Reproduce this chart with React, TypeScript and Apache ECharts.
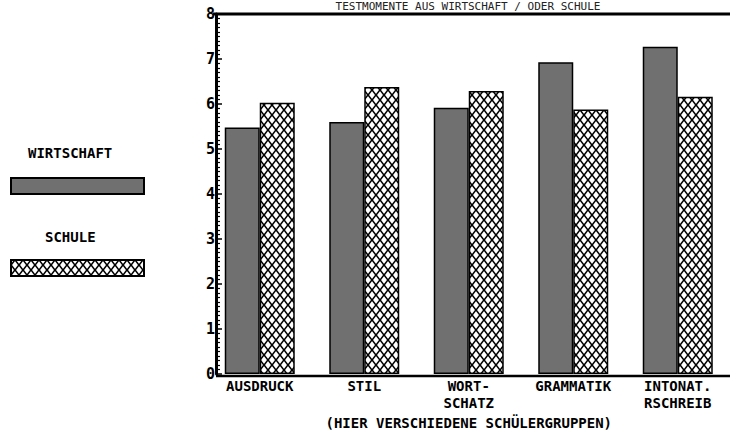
import React, { useEffect, useRef } from "react";
import * as echarts from "echarts";

const categories = ["AUSDRUCK", "STIL", "WORT-\nSCHATZ", "GRAMMATIK", "INTONAT.\nRSCHREIB"];
const seriesNames = ["WIRTSCHAFT", "SCHULE"];
const wirtschaft = [5.48, 5.6, 5.92, 6.93, 7.27];
const schule = [6.03, 6.38, 6.29, 5.88, 6.16];
const titleText = "TESTMOMENTE AUS WIRTSCHAFT / ODER SCHULE";
const xAxisName = "(HIER VERSCHIEDENE SCHÜLERGRUPPEN)";

const FONT = '"DejaVu Sans Mono", "Liberation Mono", monospace';

function makeHatch(): any {
  const s = 4;
  const W = 8 * s;
  const H = 10 * s;
  const c = document.createElement("canvas");
  c.width = W;
  c.height = H;
  const ctx = c.getContext("2d")!;
  ctx.fillStyle = "#000";
  ctx.fillRect(0, 0, W, H);
  ctx.fillStyle = "#fff";
  const hw = (W / 2) * 0.74;
  const hh = (H / 2) * 0.78;
  const centers = [
    [W / 2, H / 2],
    [0, 0],
    [W, 0],
    [0, H],
    [W, H],
  ];
  for (const [cx, cy] of centers) {
    ctx.beginPath();
    ctx.moveTo(cx, cy - hh);
    ctx.lineTo(cx + hw, cy);
    ctx.lineTo(cx, cy + hh);
    ctx.lineTo(cx - hw, cy);
    ctx.closePath();
    ctx.fill();
  }
  return {
    image: c,
    repeat: "repeat",
    imageWidth: W,
    imageHeight: H,
    scaleX: 1 / s,
    scaleY: 1 / s,
  };
}

export default function App() {
  const ref = useRef<HTMLDivElement>(null);
  useEffect(() => {
    if (!ref.current) return;
    const chart = echarts.init(ref.current, undefined, { renderer: "svg" });
    const hatch = makeHatch();
    const axisY = 376;
    chart.setOption({
      animation: false,
      backgroundColor: "#ffffff",
      textStyle: { fontFamily: FONT },
      title: {
        text: titleText,
        left: 468,
        textAlign: "center",
        top: 1,
        padding: 0,
        textStyle: { fontFamily: FONT, fontSize: 11, fontWeight: "normal", color: "#222", lineHeight: 11 },
      },
      legend: {
        orient: "vertical",
        left: 10,
        top: 177,
        padding: 0,
        icon: "rect",
        itemWidth: 133,
        itemHeight: 16,
        itemGap: 64,
        formatter: () => "",
        data: seriesNames,
        textStyle: { fontSize: 1 },
      },
      grid: { left: 207.5, right: -3, top: 14, bottom: 435 - axisY },
      xAxis: {
        type: "category",
        data: categories,
        axisLine: { show: false },
        axisTick: { show: false },
        axisLabel: {
          margin: 3,
          fontFamily: FONT,
          fontSize: 14,
          fontWeight: "bold",
          color: "#000",
          lineHeight: 17,
          interval: 0,
        },
        name: xAxisName,
        nameLocation: "middle",
        nameGap: 38,
        nameTextStyle: { fontFamily: FONT, fontSize: 14, fontWeight: "bold", color: "#000" },
      },
      yAxis: {
        type: "value",
        min: 0,
        max: 8,
        interval: 1,
        offset: -8.5,
        axisLine: { show: true, lineStyle: { color: "#000", width: 3 } },
        axisTick: { show: true, inside: true, length: 6, lineStyle: { color: "#000", width: 1.5 } },
        minorTick: { show: true, splitNumber: 10, length: 4, lineStyle: { color: "#000", width: 1.2 } },
        splitLine: { show: false },
        axisLabel: {
          margin: 1,
          fontFamily: FONT,
          fontSize: 15,
          fontWeight: "bold",
          color: "#000",
        },
      },
      series: [
        {
          name: seriesNames[0],
          type: "bar",
          data: wirtschaft,
          barWidth: 35,
          barGap: "0%",
          itemStyle: { color: "#707070", borderColor: "#000", borderWidth: 1.5 },
        },
        {
          name: seriesNames[1],
          type: "bar",
          data: schule,
          barWidth: 35,
          barGap: "0%",
          itemStyle: { color: hatch, borderColor: "#000", borderWidth: 1.5 },
        },
      ],
      graphic: [
        {
          type: "line",
          shape: { x1: 213, y1: 14, x2: 730, y2: 14 },
          style: { stroke: "#000", lineWidth: 3 },
          z: 10,
        },
        {
          type: "line",
          shape: { x1: 216, y1: axisY, x2: 730, y2: axisY },
          style: { stroke: "#000", lineWidth: 2.5 },
          z: 10,
        },
        {
          type: "text",
          left: 28,
          top: 146,
          style: { text: seriesNames[0], font: `bold 14px ${FONT}`, fill: "#000" },
        },
        {
          type: "text",
          left: 45,
          top: 230,
          style: { text: seriesNames[1], font: `bold 14px ${FONT}`, fill: "#000" },
        },
      ],
    });
    return () => chart.dispose();
  }, []);
  return (
    <div
      ref={ref}
      style={{ position: "absolute", left: 0, top: 0, width: 730, height: 435 }}
    />
  );
}
